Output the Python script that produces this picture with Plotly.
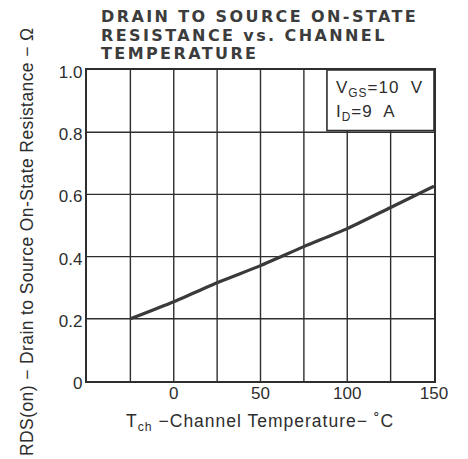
import plotly.graph_objects as go

temps = [-25, 0, 25, 50, 75, 100, 125, 150]
rds = [0.200, 0.255, 0.316, 0.371, 0.432, 0.490, 0.558, 0.626]

x_tickvals = [0, 50, 100, 150]
x_ticktext = ["0", "50", "100", "150"]
y_tickvals = [0, 0.2, 0.4, 0.6, 0.8, 1.0]
y_ticktext = ["0", "0.2", "0.4", "0.6", "0.8", "1.0"]

title_lines = ["DRAIN TO SOURCE ON-STATE", "RESISTANCE vs. CHANNEL", "TEMPERATURE"]
cond_lines = ["V<sub>GS</sub>=10  V", "I<sub>D</sub>=9  A"]

ink = "#2e2e2e"
font = "Liberation Sans, Arial, sans-serif"

# plot area in page pixels (page has an 8px body margin)
PL, PR, PT, PB = 87, 434, 70, 381
PW, PH = PR - PL, PB - PT

def fx(x):
    return (x - PL) / PW

def fy(y):
    return (PB - y) / PH

def spaced(t, s):
    return '<span style="letter-spacing:%spx">%s</span>' % (s, t)

fig = go.Figure()
fig.add_trace(go.Scatter(x=temps, y=rds, mode="lines",
                         line=dict(color="#3a3a3a", width=3.2, shape="spline", smoothing=0.6),
                         showlegend=False, hoverinfo="skip"))

fig.update_layout(
    width=460, height=451,
    margin=dict(l=PL - 8, r=460 - (PR - 8), t=PT - 8, b=451 - (PB - 8)),
    paper_bgcolor="white", plot_bgcolor="white",
    font=dict(family=font, color=ink, size=17),
    xaxis=dict(range=[-50, 150], tickmode="array", tickvals=x_tickvals, ticktext=x_ticktext,
               showgrid=False, zeroline=False, showline=True, linecolor=ink, linewidth=2.2,
               mirror=True, ticks="", ticklabelstandoff=-5, tickfont=dict(size=17, color=ink)),
    yaxis=dict(range=[0, 1.0], tickmode="array", tickvals=y_tickvals, ticktext=y_ticktext,
               showgrid=False, zeroline=False, showline=True, linecolor=ink, linewidth=2.2,
               mirror=True, ticks="", ticklabelstandoff=-1, ticklabelshift=2,
               tickfont=dict(size=17, color=ink)),
)

# grid lines every 25 C and every 0.2 ohm
for gx in [-25, 0, 25, 50, 75, 100, 125]:
    fig.add_shape(type="line", xref="x", yref="y", x0=gx, x1=gx, y0=0, y1=1.0,
                  line=dict(color=ink, width=1.4), layer="below")
for gy in [0.2, 0.4, 0.6, 0.8]:
    fig.add_shape(type="line", xref="x", yref="y", x0=-50, x1=150, y0=gy, y1=gy,
                  line=dict(color=ink, width=1.4), layer="below")

# condition box
fig.add_shape(type="rect", xref="x", yref="y", x0=88.3, x1=150, y0=0.805, y1=1.0,
              fillcolor="white", line=dict(color=ink, width=1.6), layer="above")
for i, line in enumerate(cond_lines):
    fig.add_annotation(xref="paper", yref="paper", x=fx(334), y=fy(89 + 24 * i),
                       text=spaced(line, 1.0), showarrow=False, xanchor="left", yanchor="middle",
                       font=dict(size=17, color=ink, family=font))

# title
for i, line in enumerate(title_lines):
    fig.add_annotation(xref="paper", yref="paper", x=fx(99), y=fy(16.5 + 18.5 * i),
                       text=spaced(line, 2.4),
                       showarrow=False, xanchor="left", yanchor="middle",
                       font=dict(size=16, color="#3c3c3c", family="DejaVu Sans, sans-serif", weight=600))

# axis titles
fig.add_annotation(xref="paper", yref="paper", x=fx(260), y=fy(422),
                   text=spaced("T<sub>ch</sub> \u2212Channel Temperature\u2212 \u02daC", 1.0), showarrow=False,
                   xanchor="center", yanchor="middle", font=dict(size=17.5, color=ink, family=font))
fig.add_annotation(xref="paper", yref="paper", x=fx(27), y=fy(242),
                   text=spaced("RDS(on) \u2212 Drain to Source On-State Resistance \u2212 \u03a9", 0.4),
                   showarrow=False, textangle=-90, xanchor="center", yanchor="middle",
                   font=dict(size=17.5, color=ink, family=font))

fig.write_html("out.html")
